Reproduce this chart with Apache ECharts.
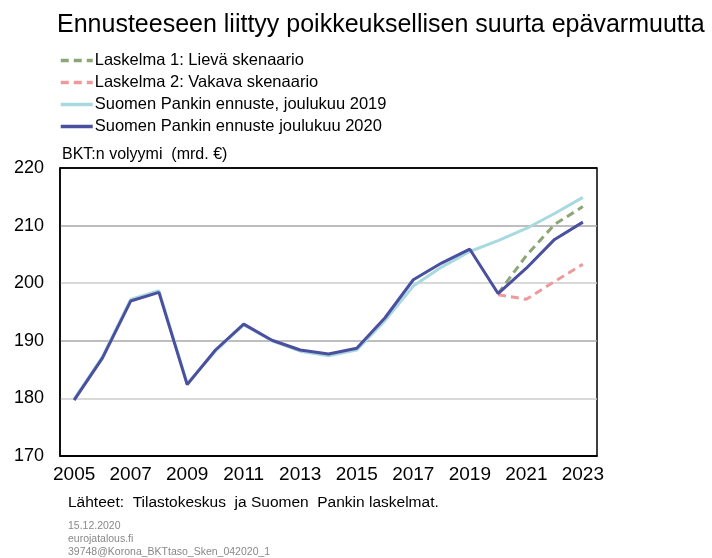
<!DOCTYPE html>
<html>
<head>
  <meta charset="UTF-8">
  <title>Ennusteeseen liittyy poikkeuksellisen suurta epävarmuutta</title>
  <style>
    html, body { margin: 0; padding: 0; background: #fff; }
    #chart { width: 712px; height: 558px; }
  </style>
  <script src="https://cdn.jsdelivr.net/npm/echarts@6/dist/echarts.min.js"></script>
</head>
<body>
  <div id="chart"></div>
  <script>
    var years = ['2005','2006','2007','2008','2009','2010','2011','2012','2013','2014',
                 '2015','2016','2017','2018','2019','2020','2021','2022','2023'];
    // Suomen Pankin ennuste joulukuu 2020
    var dec2020 = [179.7,187.0,196.9,198.4,182.4,188.4,192.9,190.1,188.4,187.7,
                   188.7,194.0,200.6,203.5,205.9,198.2,202.6,207.6,210.6];
    // Suomen Pankin ennuste, joulukuu 2019
    var dec2019 = [179.9,187.2,197.2,198.7,182.6,188.2,192.8,190.0,188.2,187.4,
                   188.4,193.5,199.5,202.8,205.5,207.4,209.5,212.1,214.9];
    // Laskelmat 2020-2023
    var lieva  = [null,null,null,null,null,null,null,null,null,null,
                  null,null,null,null,null,198.2,204.8,210.2,213.3];
    var vakava = [null,null,null,null,null,null,null,null,null,null,
                  null,null,null,null,null,198.0,197.2,200.3,203.3];

    var names = ['Laskelma 1: Lievä skenaario', 'Laskelma 2: Vakava skenaario',
                 'Suomen Pankin ennuste, joulukuu 2019', 'Suomen Pankin ennuste joulukuu 2020'];

    var font = '"Liberation Sans", Arial, sans-serif';
    var myChart = echarts.init(document.getElementById('chart'));

    var option = {
      backgroundColor: '#fff',
      animation: false,
      textStyle: { fontFamily: font },
      title: {
        text: 'Ennusteeseen liittyy poikkeuksellisen suurta epävarmuutta',
        left: 52, top: 8,
        textStyle: { fontSize: 25, fontWeight: 'normal', color: '#000', fontFamily: font }
      },
      legend: {
        orient: 'vertical',
        left: 59, top: 52, padding: 0,
        itemWidth: 32, itemHeight: 14, itemGap: 5,
        data: names,
        itemStyle: { opacity: 0 },
        lineStyle: { width: 3.5 },
        textStyle: { fontSize: 16.5, lineHeight: 14, color: '#000', fontFamily: font, padding: [0, 0, 0, -3] }
      },
      grid: {
        left: 60, right: 115, top: 168, bottom: 102,
        show: true, borderColor: '#000', borderWidth: 1.5
      },
      xAxis: {
        type: 'category',
        data: years,
        boundaryGap: true,
        axisLine: { lineStyle: { color: '#000', width: 1.5 } },
        axisTick: { show: false },
        axisLabel: { interval: 1, fontSize: 19, color: '#000', margin: 9, fontFamily: font }
      },
      yAxis: {
        type: 'value',
        min: 170, max: 220, interval: 10,
        axisLine: { show: true, lineStyle: { color: '#000', width: 1.5 } },
        axisTick: { show: false },
        axisLabel: { fontSize: 18, color: '#000', margin: 16, fontFamily: font },
        splitLine: { lineStyle: { color: ['#000', '#cccccc', '#a8a8a8', '#cccccc', '#a8a8a8', '#000'], width: 1.5 } }
      },
      graphic: [
        { type: 'text', left: 62, top: 147,
          style: { text: 'BKT:n volyymi  (mrd. €)', fontSize: 16, fill: '#000', fontFamily: font } },
        { type: 'text', left: 68, top: 495,
          style: { text: 'Lähteet:  Tilastokeskus  ja Suomen  Pankin laskelmat.', fontSize: 15.5, fill: '#000', fontFamily: font } },
        { type: 'text', left: 68, top: 520,
          style: { text: '15.12.2020\neurojatalous.fi\n39748@Korona_BKTtaso_Sken_042020_1',
                   fontSize: 10.5, lineHeight: 13, fill: '#888', fontFamily: font } }
      ],
      series: [
        { name: names[2], type: 'line', data: dec2019, symbol: 'none',
          lineStyle: { color: '#a8d9df', width: 3 }, itemStyle: { color: '#a8d9df' } },
        { name: names[0], type: 'line', data: lieva, symbol: 'none',
          lineStyle: { color: '#8ca676', width: 3, type: [8, 5] }, itemStyle: { color: '#8ca676' } },
        { name: names[1], type: 'line', data: vakava, symbol: 'none',
          lineStyle: { color: '#ee9a9c', width: 3, type: [8, 5] }, itemStyle: { color: '#ee9a9c' } },
        { name: names[3], type: 'line', data: dec2020, symbol: 'none',
          lineStyle: { color: '#4a4f9e', width: 3 }, itemStyle: { color: '#4a4f9e' } }
      ]
    };

    myChart.setOption(option);
  </script>
</body>
</html>
